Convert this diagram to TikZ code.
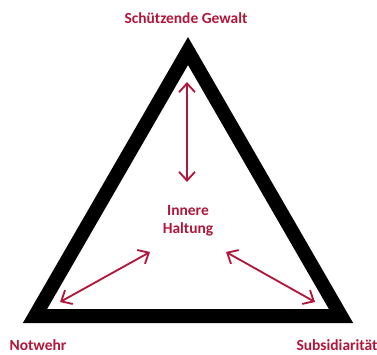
\documentclass[tikz,border=0pt]{standalone}
\usepackage{fontspec}
\setmainfont{Carlito}
\usetikzlibrary{arrows.meta,positioning}
\definecolor{haltrot}{RGB}{178,22,58}

\begin{document}
\begin{tikzpicture}[x=0.02cm,y=-0.02cm]
\tikzset{
  label/.style={font=\bfseries\fontsize{8.8}{10.4}\selectfont, text=haltrot, inner sep=0pt, align=center},
  rahmen/.style={line width=0.28cm, line join=miter, draw=black},
  pfeil/.style={{Straight Barb[length=5pt,width=9pt]}-{Straight Barb[length=5pt,width=9pt]}, draw=haltrot, line width=1.05pt}
}
\useasboundingbox (0,0) rectangle (377,354);

% Dreieck
\coordinate (links) at (35,316);
\coordinate (rechts) at (341,316);
\coordinate (spitze) at (188,51);
\draw[rahmen] (links) -- (rechts) -- (spitze) -- cycle;

% Beschriftungen
\node[label] at (186,18) (gewalt) {Schützende Gewalt};
\node[label] at (38,345) (notwehr) {Notwehr};
\node[label] at (337,345) (subsid) {Subsidiarität};
\node[label] at (188,221) (haltung) {Innere\\Haltung};

% Pfeile
\coordinate (o1) at (187,82);
\coordinate (o2) at (187,182);
\coordinate (l1) at (150,252);
\coordinate (l2) at (60,302);
\coordinate (r1) at (226,252);
\coordinate (r2) at (315,302);
\draw[pfeil] (o1) -- (o2);
\draw[pfeil] (l1) -- (l2);
\draw[pfeil] (r1) -- (r2);

\end{tikzpicture}
\end{document}
